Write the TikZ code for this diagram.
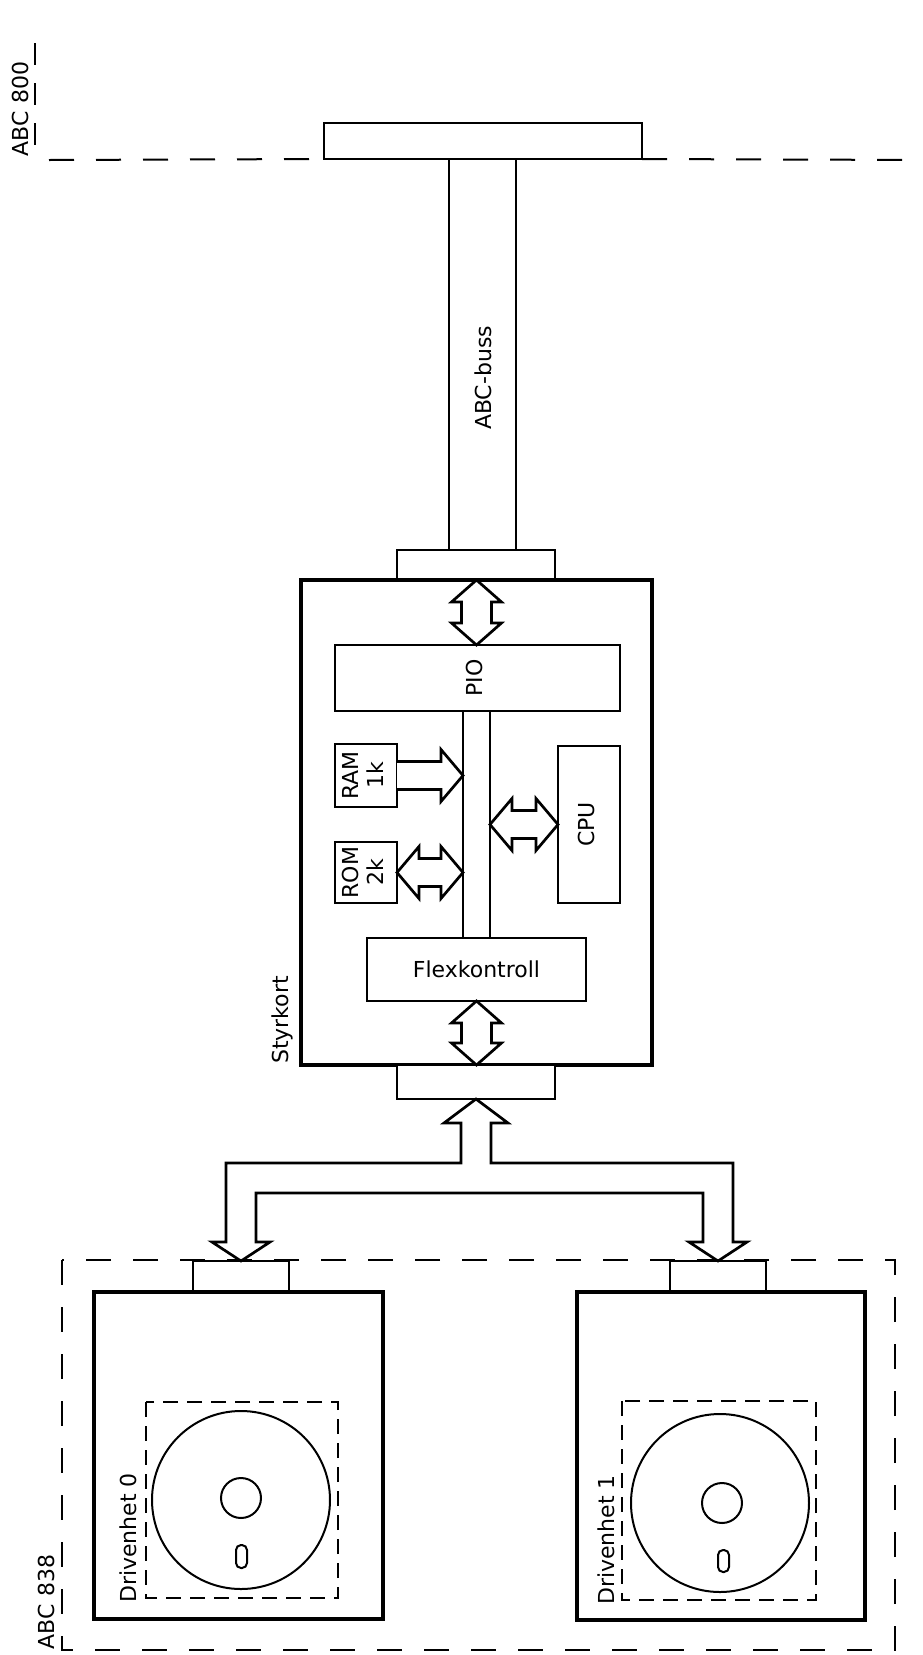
\documentclass[tikz,border=0pt]{standalone}
\usepackage{fontspec}
\setmainfont{DejaVu Sans}
\usepackage{graphicx}
\usetikzlibrary{calc}
\tikzset{
    unitbox/.style={rectangle, draw, line width=3.6pt, inner sep=0pt, outer sep=0pt},
    partbox/.style={rectangle, draw, line width=2.3pt, inner sep=0pt, outer sep=0pt},
    portbox/.style={rectangle, draw, line width=2.9pt, inner sep=0pt, outer sep=0pt, fill=white},
    blockarrow/.style={draw, line width=2.7pt, fill=white, line join=miter},
    busline/.style={line width=2.8pt},
    borderline/.style={line width=2pt, dash pattern=on 25pt off 22pt},
    trayline/.style={line width=1.8pt, dash pattern=on 15pt off 9pt},
    disk/.style={line width=2pt},
    lbl/.style={font=\fontsize{22}{25}\selectfont},
}
% rotated label, one or more lines
\newcommand{\vlab}[1]{\rotatebox{90}{\begin{tabular}{@{}c@{}}#1\end{tabular}}}
% hollow double arrow, top tip -> bottom tip
\newcommand{\vdarrow}[2]{\draw[blockarrow] let \p1=(#1), \p2=(#2) in
    (\p1) -- (\x1+25pt,\y1-22pt) -- (\x1+15pt,\y1-22pt) -- (\x1+15pt,\y2+22pt) -- (\x1+25pt,\y2+22pt)
    -- (\x1,\y2) -- (\x1-25pt,\y2+22pt) -- (\x1-15pt,\y2+22pt) -- (\x1-15pt,\y1-22pt) -- (\x1-25pt,\y1-22pt) -- cycle;}
% hollow double arrow, left tip -> right tip
\newcommand{\hdarrow}[2]{\draw[blockarrow] let \p1=(#1), \p2=(#2) in
    (\p1) -- (\x1+22pt,\y1+26pt) -- (\x1+22pt,\y1+14pt) -- (\x2-22pt,\y1+14pt) -- (\x2-22pt,\y1+26pt)
    -- (\x2,\y1) -- (\x2-22pt,\y1-26pt) -- (\x2-22pt,\y1-14pt) -- (\x1+22pt,\y1-14pt) -- (\x1+22pt,\y1-26pt) -- cycle;}
% hollow single arrow, open at its start
\newcommand{\hsarrow}[2]{\draw[blockarrow] let \p1=(#1), \p2=(#2) in
    (\x1,\y1+14pt) -- (\x2-22pt,\y1+14pt) -- (\x2-22pt,\y1+26pt) -- (\x2,\y1)
    -- (\x2-22pt,\y1-26pt) -- (\x2-22pt,\y1-14pt) -- (\x1,\y1-14pt);}

\begin{document}
\begin{tikzpicture}[x=1pt, y=-1pt]
    \useasboundingbox (0,0) rectangle (923,1655);

    % ABC 800
    \node[lbl, rotate=90] (abc800) at (20,109) {ABC 800};
    \draw[borderline, dash pattern=on 22pt off 18pt] (35,43) -- (35,153);
    \node[portbox, minimum width=318pt, minimum height=36pt] (abcport) at (483,141) {};
    \draw[borderline] (49,160) -- (abcport.south west);
    \draw[borderline] (abcport.south east) -- (923,160);

    % ABC-buss
    \node[minimum width=67pt, minimum height=391pt, inner sep=0pt, outer sep=0pt] (abcbus) at (482.5,354.5) {};
    \draw[busline] (abcbus.north west) -- (abcbus.south west) (abcbus.north east) -- (abcbus.south east);
    \node[lbl, rotate=90] (busl) at (483,378) {ABC-buss};

    % Styrkort
    \node[portbox, minimum width=158pt, minimum height=30pt] (contop) at (476,565) {};
    \node[unitbox, minimum width=351pt, minimum height=485pt] (card) at (476.5,822.5) {};
    \node[lbl, rotate=90] (cardl) at (282.5,1020) {Styrkort};
    \node[portbox, minimum width=158pt, minimum height=34pt] (conbot) at (476,1082) {};

    \node[partbox, lbl, minimum width=285pt, minimum height=66pt] (pio) at (477.5,678) {\vlab{PIO}};
    \node[minimum width=27pt, minimum height=227pt, inner sep=0pt, outer sep=0pt] (ibus) at (476.5,824.5) {};
    \draw[busline] (ibus.north west) -- (ibus.south west) (ibus.north east) -- (ibus.south east);
    \node[partbox, lbl, minimum width=62pt, minimum height=63pt] (ram) at (366,775.5) {\vlab{RAM\\1k}};
    \node[partbox, lbl, minimum width=62pt, minimum height=61pt] (rom) at (366,872.5) {\vlab{ROM\\2k}};
    \node[partbox, lbl, minimum width=62pt, minimum height=157pt] (cpu) at (589,824.5) {\vlab{CPU}};
    \node[partbox, lbl, minimum width=219pt, minimum height=63pt] (flex) at (476.5,969.5) {Flexkontroll};

    \vdarrow{card.north}{pio.north}
    \vdarrow{flex.south}{card.south}
    \hsarrow{ram.east}{ram.east -| ibus.west}
    \hdarrow{rom.east}{rom.east -| ibus.west}
    \hdarrow{cpu.west -| ibus.east}{cpu.west}

    % ABC 838
    \draw[borderline] (62,1260) rectangle (895,1650);
    \node[lbl, rotate=90] (abc838) at (46.5,1602) {ABC 838};

    \node[portbox, minimum width=96pt, minimum height=31pt] (con0) at (241,1276.5) {};
    \node[portbox, minimum width=96pt, minimum height=31pt] (con1) at (718,1276.5) {};
    \node[unitbox, minimum width=289pt, minimum height=327pt] (drv0) at (238.5,1455.5) {};
    \node[unitbox, minimum width=288pt, minimum height=328pt] (drv1) at (721,1456) {};

    % Styrkort -> drivenheter
    \draw[blockarrow] let \p1=(conbot.south), \p2=(con0.north), \p3=(con1.north) in
        (\p1) -- (\x1+32pt,\y1-24pt) -- (\x1+15pt,\y1-24pt) -- (\x1+15pt,\y1-64pt)
        -- (\x3+15pt,\y1-64pt) -- (\x3+15pt,\y3+19pt) -- (\x3+29pt,\y3+19pt) -- (\p3)
        -- (\x3-29pt,\y3+19pt) -- (\x3-15pt,\y3+19pt) -- (\x3-15pt,\y1-94pt)
        -- (\x2+15pt,\y1-94pt) -- (\x2+15pt,\y2+19pt) -- (\x2+29pt,\y2+19pt) -- (\p2)
        -- (\x2-29pt,\y2+19pt) -- (\x2-15pt,\y2+19pt) -- (\x2-15pt,\y1-64pt)
        -- (\x1-15pt,\y1-64pt) -- (\x1-15pt,\y1-24pt) -- (\x1-32pt,\y1-24pt) -- cycle;

    % Drivenhet 0
    \draw[trayline] (146,1402) rectangle (338,1598);
    \draw[disk] (241,1500) circle[radius=89pt];
    \draw[disk] (241,1498) circle[radius=20pt];
    \draw[disk, rounded corners=5pt] (236,1545) rectangle (247,1568);
    \node[lbl, rotate=90] (drv0l) at (128,1538) {Drivenhet 0};

    % Drivenhet 1
    \draw[trayline] (622,1401) rectangle (816,1600);
    \draw[disk] (720,1503) circle[radius=89pt];
    \draw[disk] (722,1503) circle[radius=20pt];
    \draw[disk, rounded corners=5pt] (718,1550) rectangle (729,1572);
    \node[lbl, rotate=90] (drv1l) at (606,1540) {Drivenhet 1};
\end{tikzpicture}
\end{document}
